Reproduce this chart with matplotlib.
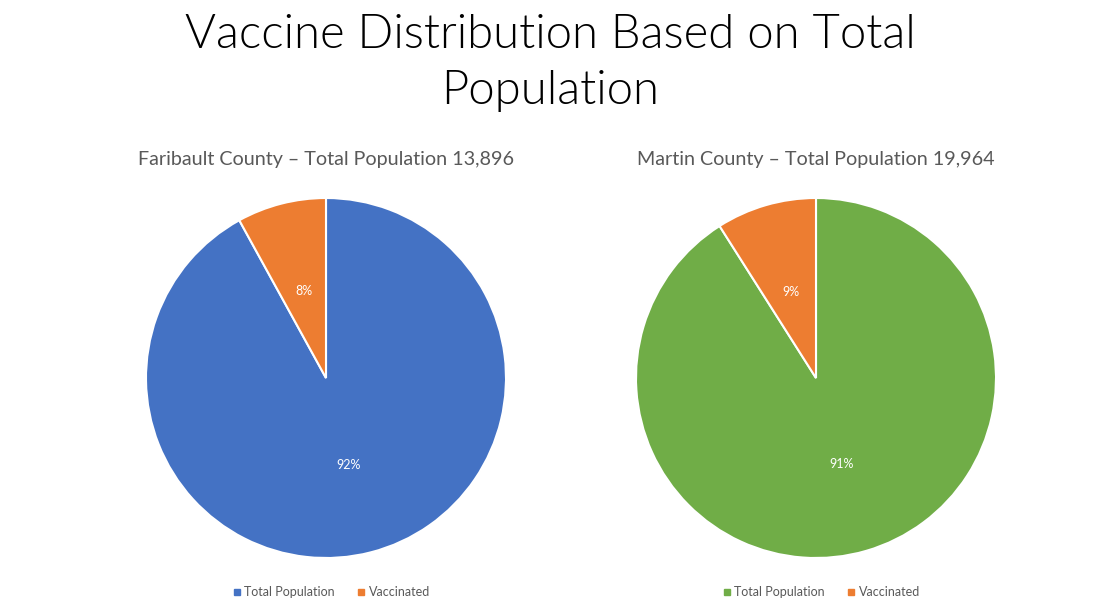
import matplotlib
matplotlib.use("Agg")
import matplotlib.pyplot as plt
from matplotlib.lines import Line2D

title = "Vaccine Distribution Based on Total\nPopulation"
categories = ["Total Population", "Vaccinated"]
county_titles = ["Faribault County \u2013 Total Population 13,896",
                 "Martin County \u2013 Total Population 19,964"]
faribault_values = [92, 8]
martin_values = [91, 9]

colors_left = ["#4472C4", "#ED7D31"]
colors_right = ["#70AD47", "#ED7D31"]

plt.rcParams['font.family'] = ['Lato', 'DejaVu Sans']

W, H = 1101, 615
fig = plt.figure(figsize=(W / 100, H / 100), dpi=100)
fig.patch.set_facecolor("white")

fig.text(0.5, 1 - 63 / H, title, ha="center", va="center", fontsize=34,
         fontweight=300, color="black", linespacing=1.42)

def draw(cx, values, colors, sub):
    r = 180
    ax = fig.add_axes([(cx - r) / W, (H - 378 - r) / H, 2 * r / W, 2 * r / H])
    wedges, texts, autotexts = ax.pie(values, colors=colors, startangle=90, counterclock=False,
                                      autopct="%1.0f%%", pctdistance=0.5,
                                      wedgeprops=dict(edgecolor="white", linewidth=1.5),
                                      textprops=dict(color="white", fontsize=9))
    ax.set_xlim(-1, 1)
    ax.set_ylim(-1, 1)
    ax.set_aspect("equal")
    fig.text(cx / W, 1 - 159 / H, sub, ha="center", va="center", fontsize=14.2, color="#595959")
    handles = [Line2D([], [], marker="s", linestyle="none", markersize=5,
                      markerfacecolor=c, markeredgecolor=c) for c in colors]
    fig.legend(handles, categories, loc="center", bbox_to_anchor=(cx / W + 0.004, 1 - 592 / H),
               ncol=2, frameon=False, fontsize=9, handletextpad=0.1, columnspacing=1.6,
               labelcolor="#595959", handlelength=1.0)

draw(326, faribault_values, colors_left, county_titles[0])
draw(816, martin_values, colors_right, county_titles[1])

fig.savefig("out.png", dpi=100, facecolor="white")
